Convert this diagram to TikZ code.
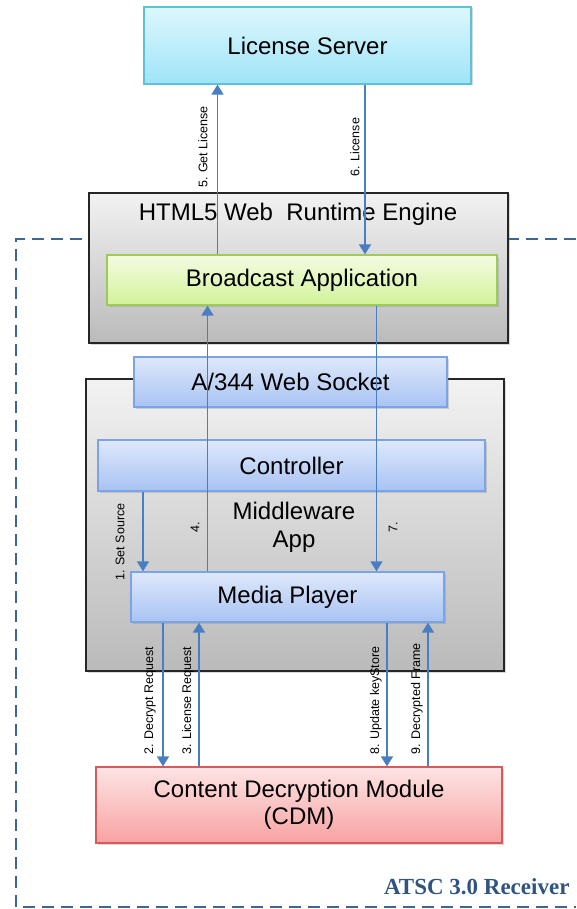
\documentclass[tikz,border=0pt]{standalone}
\usepackage{fontspec}
\setmainfont{Liberation Sans}
\newfontfamily\recvfont{Liberation Serif}
\usepackage{xcolor}
\usetikzlibrary{arrows.meta,shadows,positioning,calc}
\definecolor{flowblue}{HTML}{4A7EC2}
\definecolor{recvblue}{HTML}{3D6596}
\definecolor{recvtext}{HTML}{2F5481}
\definecolor{srvtop}{HTML}{DDF7FD}
\definecolor{srvbot}{HTML}{9FE4F8}
\definecolor{srvline}{HTML}{5BC2DA}
\definecolor{apptop}{HTML}{F3FCE2}
\definecolor{appbot}{HTML}{D3F29A}
\definecolor{appline}{HTML}{9DCB5A}
\definecolor{mwtop}{HTML}{DEE8FB}
\definecolor{mwbot}{HTML}{A8C3F3}
\definecolor{mwline}{HTML}{7BA3E6}
\definecolor{cdmtop}{HTML}{FDE4E4}
\definecolor{cdmbot}{HTML}{F8A2A2}
\definecolor{cdmline}{HTML}{D65B5B}

\begin{document}
\begin{tikzpicture}[x=1pt, y=-1pt,
    box/.style={draw, line width=1.3pt, inner sep=0pt, align=center,
        font=\fontsize{24}{27}\selectfont,
        drop shadow={opacity=0.3, shadow xshift=1.5pt, shadow yshift=-1.5pt}},
    serverbox/.style={box, draw=srvline, top color=srvtop, bottom color=srvbot},
    appbox/.style={box, draw=appline, top color=apptop, bottom color=appbot},
    mwbox/.style={box, draw=mwline, top color=mwtop, bottom color=mwbot},
    cdmbox/.style={box, draw=cdmline, top color=cdmtop, bottom color=cdmbot},
    graybox/.style={box, line width=1.6pt, draw=black!85, top color=black!5, bottom color=black!27},
    flow/.style={draw=flowblue, line width=1.8pt, -{Triangle[width=12pt,length=10pt]}},
    lbl/.style={rotate=90, inner sep=0pt, font=\fontsize{12.5}{14}\selectfont},
    big/.style={inner sep=0pt, align=center, font=\fontsize{24}{28}\selectfont}]
    \useasboundingbox (0,0) rectangle (576,909);
    \draw[recvblue, line width=2pt, dash pattern=on 12pt off 7pt] (576,239) -- (16,239) -- (16,907) -- (576,907);
    \node[anchor=east, text=recvtext, font=\recvfont\bfseries\fontsize{23}{26}\selectfont] (recv) at (573,887) {ATSC 3.0 Receiver};

    \node[graybox, minimum width=419, minimum height=150] (html) at (298.5,268) {};
    \node[big] (htmltitle) at (298,214) {HTML5 Web\ \ Runtime Engine};
    \node[appbox, minimum width=390, minimum height=50] (ba) at (302,280) {Broadcast Application};
    \node[serverbox, minimum width=327, minimum height=77] (ls) at (307.5,45.5) {License Server};

    \node[graybox, minimum width=418, minimum height=292] (mw) at (295,525) {};
    \node[mwbox, minimum width=313, minimum height=50] (ws) at (290.5,382) {A/344 Web Socket};
    \node[mwbox, minimum width=387, minimum height=51] (ctl) at (291.5,465.5) {Controller};
    \node[big] (mwtitle) at (294,527) {Middleware\\App};
    \node[mwbox, minimum width=313, minimum height=50] (mp) at (287.5,597) {Media Player};
    \node[cdmbox, minimum width=406, minimum height=76] (cdm) at (299,805) {Content Decryption Module\\(CDM)};

    \coordinate (x1) at (143,0);
    \coordinate (x2) at (163,0);
    \coordinate (x3) at (199,0);
    \coordinate (x4) at (207.5,0);
    \coordinate (x5) at (217.5,0);
    \coordinate (x6) at (365,0);
    \coordinate (x7) at (376.5,0);
    \coordinate (x8) at (387,0);
    \coordinate (x9) at (428,0);

    \draw[flow] (ba.north -| x5) -- (ls.south -| x5);
    \draw[flow] (ls.south -| x6) -- (ba.north -| x6);
    \draw[flow] (ctl.south -| x1) -- (mp.north -| x1);
    \draw[flow] (mp.north -| x4) -- (ba.south -| x4);
    \draw[flow] (ba.south -| x7) -- (mp.north -| x7);
    \draw[flow] (mp.south -| x2) -- (cdm.north -| x2);
    \draw[flow] (cdm.north -| x3) -- (mp.south -| x3);
    \draw[flow] (mp.south -| x8) -- (cdm.north -| x8);
    \draw[flow] (cdm.north -| x9) -- (mp.south -| x9);

    \node[lbl] (l5) at (203,147) {5. Get License};
    \node[lbl] (l6) at (355,147) {6. License};
    \node[lbl] (l1) at (120,542) {1. Set Source};
    \node[lbl] (l4) at (195,527) {4.};
    \node[lbl] (l7) at (393,527) {7.};
    \node[lbl, anchor=west] (l2) at (150,755) {2. Decrypt Request};
    \node[lbl, anchor=west] (l3) at (188,755) {3. License Request};
    \node[lbl, anchor=west] (l8) at (376,755) {8. Update keyStore};
    \node[lbl, anchor=west] (l9) at (417,755) {9. Decrypted Frame};
\end{tikzpicture}
\end{document}
